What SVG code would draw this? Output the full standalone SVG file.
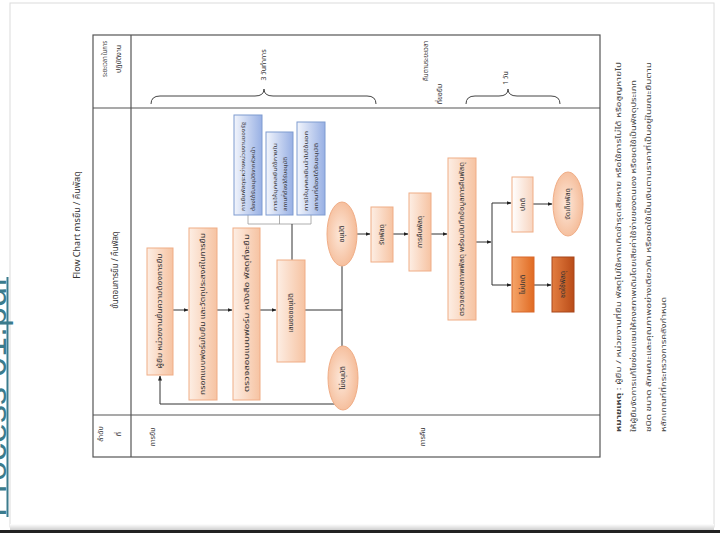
<svg xmlns="http://www.w3.org/2000/svg" width="720" height="539" viewBox="0 0 720 539">
<defs>
<linearGradient id="gOr" x1="0" y1="0" x2="1" y2="0"><stop offset="0" stop-color="#fdeee4"/><stop offset="1" stop-color="#f6c3a2"/></linearGradient>
<linearGradient id="gBl" x1="0" y1="0" x2="1" y2="0"><stop offset="0" stop-color="#f2f5fc"/><stop offset="1" stop-color="#98b0e4"/></linearGradient>
<linearGradient id="gLt" x1="0" y1="0" x2="1" y2="0"><stop offset="0" stop-color="#ffffff"/><stop offset="1" stop-color="#f7d4bf"/></linearGradient>
<linearGradient id="gDk" x1="0" y1="0" x2="1" y2="0"><stop offset="0" stop-color="#f5a56a"/><stop offset="1" stop-color="#e06a22"/></linearGradient>
<linearGradient id="gDk2" x1="0" y1="0" x2="1" y2="0"><stop offset="0" stop-color="#e37d40"/><stop offset="1" stop-color="#b94c18"/></linearGradient>
<radialGradient id="gEl" cx="0.45" cy="0.5" r="0.6"><stop offset="0" stop-color="#fde8da"/><stop offset="1" stop-color="#f4b893"/></radialGradient>
<linearGradient id="gSh" x1="0" y1="0" x2="0" y2="1"><stop offset="0" stop-color="#ffffff"/><stop offset="1" stop-color="#cfcfcf"/></linearGradient>
<marker id="ar" viewBox="0 0 10 10" refX="9" refY="5" markerWidth="5" markerHeight="5" orient="auto"><path d="M0,1 L10,5 L0,9 z" fill="#222"/></marker>
<style>
.box{fill:url(#gOr);stroke:#f0ad86;stroke-width:1}
.blue{fill:url(#gBl);stroke:#7f9bd0;stroke-width:1}
.ell{fill:url(#gEl);stroke:#f0ad86;stroke-width:1}
.t{font-family:"Noto Sans Thai","Noto Sans","DejaVu Sans",sans-serif;font-size:7px;fill:#333;text-anchor:middle;dominant-baseline:central}
.ts{font-family:"Noto Sans Thai","Noto Sans","DejaVu Sans",sans-serif;font-size:6px;fill:#333;text-anchor:start;dominant-baseline:central}
.h{font-family:"Noto Sans Thai","Noto Sans","DejaVu Sans",sans-serif;font-size:8px;fill:#333;text-anchor:middle;dominant-baseline:central}
.hs{font-family:"Noto Sans Thai","Noto Sans","DejaVu Sans",sans-serif;font-size:7px;fill:#333;text-anchor:middle;dominant-baseline:central}
.n{font-family:"Noto Sans Thai","Noto Sans","DejaVu Sans",sans-serif;font-size:7.5px;fill:#444;text-anchor:start;dominant-baseline:central}
.ln{stroke:#333;stroke-width:1;fill:none}
.thin{stroke:#9a9a9a;stroke-width:0.8;fill:none}
.fr{stroke:#555;stroke-width:1.2;fill:none}
.br{stroke:#444;stroke-width:1;fill:none}
</style>
</defs>
<rect x="0" y="0" width="720" height="539" fill="#ffffff"/>
<!-- slide page -->
<rect x="10" y="3" width="704" height="524" fill="#ffffff" stroke="#dcdcdc" stroke-width="1"/>
<rect x="10" y="524" width="704" height="6" fill="url(#gSh)"/>
<rect x="0" y="530" width="720" height="3" fill="#222"/>
<!-- link text at left edge -->
<text x="6" y="517" transform="rotate(-90 6 517)" font-family="Liberation Sans, Arial, sans-serif" font-size="34" fill="#3b7b8c" textLength="240" lengthAdjust="spacingAndGlyphs">Process 01.pdf</text>
<line x1="7.5" y1="277" x2="7.5" y2="517" stroke="#3b7b8c" stroke-width="2"/>

<!-- title -->
<text class="h" transform="translate(77,225) rotate(-90)" style="font-size:9px">Flow Chart การยืม / คืนพัสดุ</text>

<!-- table frame -->
<g id="table">
<rect class="fr" x="93" y="35" width="507" height="422"/>
<line class="fr" x1="131" y1="35" x2="131" y2="457"/>
<line class="fr" x1="93" y1="108" x2="600" y2="108"/>
<line class="fr" x1="93" y1="415" x2="600" y2="415"/>
<text class="hs" transform="translate(105,59) rotate(-90)" textLength="36" lengthAdjust="spacingAndGlyphs">ระยะเวลา ในการ</text>
<text class="hs" transform="translate(119,59) rotate(-90)">ปฏิบัติงาน</text>
<text class="h" transform="translate(116,270) rotate(-90)">ขั้นตอนการยืม / คืนพัสดุ</text>
<text class="hs" transform="translate(101,434) rotate(-90)">ลำดับ</text>
<text class="hs" transform="translate(119,434) rotate(-90)">ที่</text>
<text class="hs" transform="translate(153,437) rotate(-90)">การยืม</text>
<text class="hs" transform="translate(423,437) rotate(-90)">การคืน</text>
</g>

<!-- time braces -->
<g id="time">
<path class="br" d="M151,104 Q151,96 160,96 L255,96 Q264,96 264,89 Q264,96 273,96 L367,96 Q376,96 376,104"/>
<text class="hs" transform="translate(264,65) rotate(-90)">3  วันทำการ</text>
<text class="hs" transform="translate(426,61) rotate(-90)" textLength="40" lengthAdjust="spacingAndGlyphs">คืนตามระยะเวลา</text>
<text class="hs" transform="translate(440,94) rotate(-90)">ที่ขอยืม</text>
<path class="br" d="M466,104 Q466,96 475,96 L499,96 Q508,96 508,89 Q508,96 517,96 L551,96 Q560,96 560,104"/>
<text class="hs" transform="translate(506,78) rotate(-90)">1  วัน</text>
</g>

<!-- connectors -->
<g id="connectors">
<line class="ln" x1="173" y1="310" x2="188" y2="310" marker-end="url(#ar)"/>
<line class="ln" x1="217" y1="310" x2="232" y2="310" marker-end="url(#ar)"/>
<line class="ln" x1="260" y1="310" x2="276" y2="310" marker-end="url(#ar)"/>
<line class="thin" x1="248" y1="215" x2="248" y2="224"/>
<line class="thin" x1="279.5" y1="215" x2="279.5" y2="224"/>
<line class="thin" x1="311" y1="215" x2="311" y2="224"/>
<line class="thin" x1="248" y1="224" x2="311" y2="224"/>
<line class="ln" x1="292" y1="224" x2="292" y2="260"/>
<line class="ln" x1="305" y1="310" x2="342" y2="310"/>
<line class="ln" x1="342" y1="266" x2="342" y2="346"/>
<polyline class="ln" points="335,404 160,404 160,376" marker-end="url(#ar)"/>
<line class="ln" x1="357" y1="234" x2="370" y2="234" marker-end="url(#ar)"/>
<line class="ln" x1="393" y1="234" x2="408" y2="234" marker-end="url(#ar)"/>
<line class="ln" x1="431" y1="234" x2="447" y2="234" marker-end="url(#ar)"/>
<line class="ln" x1="476" y1="242" x2="491" y2="242" marker-end="url(#ar)"/>
<line class="ln" x1="492" y1="203" x2="492" y2="285"/>
<line class="ln" x1="492" y1="203" x2="511" y2="203" marker-end="url(#ar)"/>
<line class="ln" x1="492" y1="285" x2="511" y2="285" marker-end="url(#ar)"/>
<line class="ln" x1="533" y1="204" x2="552" y2="204" marker-end="url(#ar)"/>
<line class="ln" x1="534" y1="285" x2="551" y2="285" marker-end="url(#ar)"/>
</g>

<!-- nodes -->
<g id="n1"><rect class="box" x="147" y="248" width="26" height="127"/>
<text class="t" transform="translate(160,311) rotate(-90)" textLength="115" lengthAdjust="spacingAndGlyphs">ผู้ยืม หน่วยงานยื่นความต้องการยืม</text></g>
<g id="n2"><rect class="box" x="189" y="228" width="28" height="172"/>
<text class="t" transform="translate(203,314) rotate(-90)" textLength="162" lengthAdjust="spacingAndGlyphs">กรอกแบบฟอร์มใบยืม และวัตถุประสงค์ในการยืม</text></g>
<g id="n3"><rect class="box" x="233" y="228" width="27" height="172"/>
<text class="t" transform="translate(246.5,313) rotate(-90)" textLength="158" lengthAdjust="spacingAndGlyphs">ตรวจสอบแบบฟอร์ม หนังสือ พัสดุที่จะยืม</text></g>
<g id="n4"><rect class="box" x="277" y="260" width="28" height="102"/>
<text class="t" transform="translate(291,313) rotate(-90)">เสนอขออนุมัติ</text></g>

<g id="b1"><rect class="blue" x="234" y="115" width="28" height="100"/>
<text class="ts" transform="translate(243,211) rotate(-90)" textLength="89" lengthAdjust="spacingAndGlyphs">การยืมพัสดุระหว่างหน่วยงานของรัฐ</text>
<text class="ts" transform="translate(253,211) rotate(-90)" textLength="64" lengthAdjust="spacingAndGlyphs">ต้องได้รับอนุมัติจากหัวหน้า</text></g>
<g id="b2"><rect class="blue" x="266" y="132" width="27" height="83"/>
<text class="ts" transform="translate(275,211) rotate(-90)" textLength="68" lengthAdjust="spacingAndGlyphs">การให้บุคคลยืมใช้ภายใน</text>
<text class="ts" transform="translate(285,211) rotate(-90)" textLength="54" lengthAdjust="spacingAndGlyphs">สถานที่ต้องได้รับอนุมัติ</text></g>
<g id="b3"><rect class="blue" x="297" y="122" width="28" height="93"/>
<text class="ts" transform="translate(306,211) rotate(-90)" textLength="80" lengthAdjust="spacingAndGlyphs">การให้บุคคลยืมนำไปใช้นอก</text>
<text class="ts" transform="translate(316,211) rotate(-90)" textLength="68" lengthAdjust="spacingAndGlyphs">สถานที่ต้องได้รับอนุมัติ</text></g>

<g id="e1"><ellipse class="ell" cx="342" cy="234" rx="15" ry="32"/>
<text class="t" transform="translate(342,234) rotate(-90)">อนุมัติ</text></g>
<g id="e2"><ellipse class="ell" cx="343" cy="378" rx="15" ry="32"/>
<text class="t" transform="translate(343,378) rotate(-90)">ไม่อนุมัติ</text></g>

<g id="r1"><rect class="box" x="371" y="207" width="22" height="55"/>
<text class="t" transform="translate(382,234.5) rotate(-90)">รับพัสดุ</text></g>
<g id="r2"><rect class="box" x="409" y="193" width="22" height="78"/>
<text class="t" transform="translate(420,232) rotate(-90)">การคืนพัสดุ</text></g>
<g id="r3"><rect class="box" x="448" y="158" width="28" height="162"/>
<text class="t" transform="translate(462,239) rotate(-90)" textLength="154" lengthAdjust="spacingAndGlyphs">ตรวจสอบสภาพพัสดุ พร้อมบันทึกข้อมูลการคืนพัสดุ</text></g>

<g id="p1"><rect x="512" y="177" width="21" height="55" fill="url(#gLt)" stroke="#f0ad86"/>
<text class="t" transform="translate(522.5,204.5) rotate(-90)">ปกติ</text></g>
<g id="p2"><rect x="512" y="257" width="22" height="55" fill="url(#gDk)" stroke="#d9692b"/>
<text class="t" transform="translate(523,284.5) rotate(-90)">ไม่ปกติ</text></g>
<g id="e3"><ellipse class="ell" cx="568" cy="204" rx="15" ry="32"/>
<text class="t" transform="translate(568,204) rotate(-90)">จัดเก็บพัสดุ</text></g>
<g id="p3"><rect x="552" y="257" width="22" height="55" fill="url(#gDk2)" stroke="#a8461a"/>
<text class="t" transform="translate(563,284.5) rotate(-90)">ชดใช้พัสดุ</text></g>

<!-- note -->
<g id="note">
<text class="n" transform="translate(618,432) rotate(-90)" textLength="370" lengthAdjust="spacingAndGlyphs"><tspan font-weight="bold">หมายเหตุ</tspan> : ผู้ยืม / หน่วยงานที่ยืม พัสดุไปใช้หากเกิดชำรุดเสียหาย หรือใช้การไม่ได้ หรือสูญหายไป</text>
<text class="n" transform="translate(633,432) rotate(-90)" textLength="352" lengthAdjust="spacingAndGlyphs">ให้ผู้ยืมจัดการแก้ไขซ่อมแซมให้คงสภาพเดิมโดยเสียค่าใช้จ่ายของตนเอง หรือชดใช้เป็นพัสดุประเภท</text>
<text class="n" transform="translate(648,432) rotate(-90)" textLength="370" lengthAdjust="spacingAndGlyphs">ชนิด ขนาด ลักษณะและคุณภาพอย่างเดียวกัน หรือชดใช้เป็นเงินตามราคาที่เป็นอยู่ในขณะยืมตาม</text>
<text class="n" transform="translate(663,432) rotate(-90)" textLength="135" lengthAdjust="spacingAndGlyphs">หลักเกณฑ์ที่กระทรวงการคลังกำหนด</text>
</g>
</svg>
